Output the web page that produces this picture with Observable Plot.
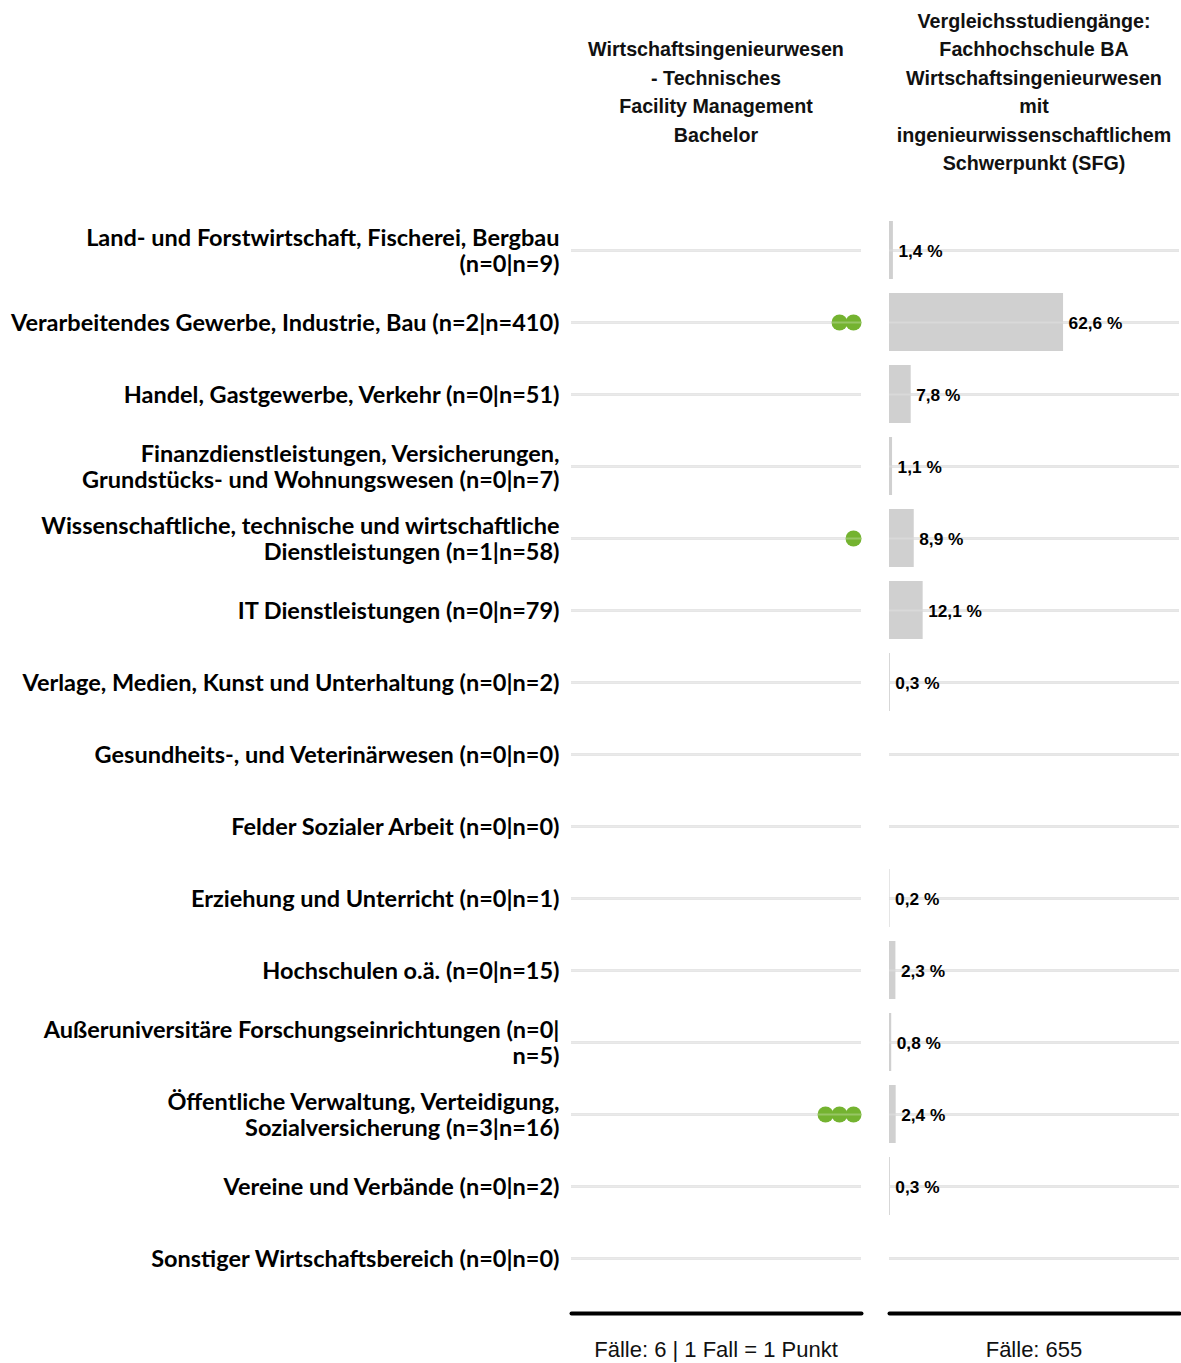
<!DOCTYPE html>
<html>
<head>
<meta charset="utf-8">
<script src="https://cdn.jsdelivr.net/npm/d3@7"></script>
<script src="https://cdn.jsdelivr.net/npm/@observablehq/plot@0.6"></script>
<style>
  body { margin: 0; background: #fff; }
  #wrap { position: relative; width: 1181px; height: 1363px; }
  .hdr { position: absolute; font-family: "Liberation Sans", Arial, sans-serif; font-weight: bold;
         font-size: 19.7px; line-height: 28.5px; text-align: center; color: #111;
         display: flex; align-items: center; justify-content: center; height: 184px; top: 0; }
  .ftr { position: absolute; font-family: "Liberation Sans", Arial, sans-serif; font-size: 22px;
         text-align: center; color: #111; top: 1337px; }
  #left { position: absolute; left: 0; top: 0; }
  #right { position: absolute; left: 875px; top: 0; }
</style>
</head>
<body>
<div id="wrap">
  <div class="hdr" style="left:566px;width:300px;">Wirtschaftsingenieurwesen<br>- Technisches<br>Facility Management<br>Bachelor</div>
  <div class="hdr" style="left:879px;width:310px;">Vergleichsstudiengänge:<br>Fachhochschule BA<br>Wirtschaftsingenieurwesen<br>mit<br>ingenieurwissenschaftlichem<br>Schwerpunkt (SFG)</div>
  <div id="left"></div>
  <div id="right"></div>
  <div class="ftr" style="left:566px;width:300px;">Fälle: 6 | 1 Fall = 1 Punkt</div>
  <div class="ftr" style="left:884px;width:300px;">Fälle: 655</div>
</div>
<script>
const categories = [
  "Land- und Forstwirtschaft, Fischerei, Bergbau\n(n=0|n=9)",
  "Verarbeitendes Gewerbe, Industrie, Bau (n=2|n=410)",
  "Handel, Gastgewerbe, Verkehr (n=0|n=51)",
  "Finanzdienstleistungen, Versicherungen,\nGrundstücks- und Wohnungswesen (n=0|n=7)",
  "Wissenschaftliche, technische und wirtschaftliche\nDienstleistungen (n=1|n=58)",
  "IT Dienstleistungen (n=0|n=79)",
  "Verlage, Medien, Kunst und Unterhaltung (n=0|n=2)",
  "Gesundheits-, und Veterinärwesen (n=0|n=0)",
  "Felder Sozialer Arbeit (n=0|n=0)",
  "Erziehung und Unterricht (n=0|n=1)",
  "Hochschulen o.ä. (n=0|n=15)",
  "Außeruniversitäre Forschungseinrichtungen (n=0|\nn=5)",
  "Öffentliche Verwaltung, Verteidigung,\nSozialversicherung (n=3|n=16)",
  "Vereine und Verbände (n=0|n=2)",
  "Sonstiger Wirtschaftsbereich (n=0|n=0)"
];
const programCounts = [0, 2, 0, 0, 1, 0, 0, 0, 0, 0, 0, 0, 3, 0, 0];
const comparisonPercent = [1.4, 62.6, 7.8, 1.1, 8.9, 12.1, 0.3, 0, 0, 0.2, 2.3, 0.8, 2.4, 0.3, 0];

const H = 1330;
const yScale = {domain: categories, paddingInner: 0.2, paddingOuter: 0.1};
const common = {height: H, marginTop: 210, marginBottom: 17, style: {background: "transparent"}};

// dots: one per case, stacked from the right edge
const dots = [];
categories.forEach((c, i) => { for (let k = 0; k < programCounts[i]; k++) dots.push({cat: c, k}); });

const left = Plot.plot({
  ...common,
  width: 875, marginLeft: 571, marginRight: 14,
  x: {domain: [20.15, -0.57], axis: null},
  y: {...yScale, insetBottom: 15, label: null},
  marks: [
    Plot.ruleY(categories, {stroke: "#e3e3e3", strokeWidth: 3}),
    Plot.dot(dots, {x: "k", y: "cat", r: 8, fill: "#74b330", stroke: "none"}),
    Plot.ruleY(categories, {stroke: "#ffffff", strokeOpacity: 0.25, strokeWidth: 2}),
    Plot.axisY({tickSize: 0, tickPadding: 12, label: null, fontSize: 23.5, fontWeight: "bold",
                fontFamily: "Lato, 'Open Sans', sans-serif", fill: "#000", lineHeight: 1.12}),
    Plot.frame({anchor: "bottom", stroke: "#000", strokeWidth: 4, strokeLinecap: "round"})
  ]
});

const rows = categories.map((c, i) => ({cat: c, p: comparisonPercent[i]}));
const right = Plot.plot({
  ...common,
  width: 306, marginLeft: 14, marginRight: 2,
  x: {domain: [0, 104.3], axis: null},
  y: {...yScale, insetBottom: 15, axis: null},
  marks: [
    Plot.ruleY(categories, {stroke: "#e3e3e3", strokeWidth: 3}),
    Plot.barX(rows.filter(d => d.p > 0), {x: "p", y: "cat", fill: "#d0d0d0", insetLeft: 0, insetRight: 0}),
    Plot.ruleY(categories, {stroke: "#ffffff", strokeOpacity: 0.2, strokeWidth: 2}),
    Plot.text(rows.filter(d => d.p > 0), {x: "p", y: "cat", text: d => d.p.toFixed(1).replace(".", ",") + " %",
      textAnchor: "start", dx: 5, dy: 1, fontSize: 17.3, fontWeight: "bold", fill: "#000",
      fontFamily: "'Liberation Sans', Arial, sans-serif"}),
    Plot.frame({anchor: "bottom", stroke: "#000", strokeWidth: 4, strokeLinecap: "round"})
  ]
});

document.getElementById("left").appendChild(left);
document.getElementById("right").appendChild(right);
</script>
</body>
</html>
